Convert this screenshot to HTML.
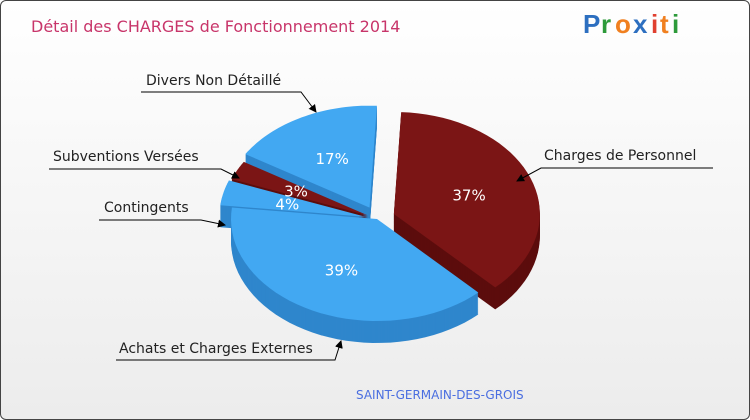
<!DOCTYPE html>
<html><head><meta charset="utf-8"><style>
body{margin:0;}
#c{position:relative;width:748px;height:418px;border:1px solid #444;border-radius:6px;overflow:hidden;background:linear-gradient(#fff,#ececec);font-family:"DejaVu Sans","Liberation Sans",sans-serif;}
</style></head><body>
<div id="c">
<svg id="s" width="748" height="418">
<text x="30" y="31" font-size="16" fill="#c8356a" font-family="DejaVu Sans, Liberation Sans, sans-serif">Détail des CHARGES de Fonctionnement 2014</text>
<g font-family="Liberation Sans, sans-serif" font-size="26" font-weight="bold">
<text x="582" y="32" fill="#2d6fc0">P</text><text x="600" y="32" fill="#2d9a3a">r</text><text x="614" y="32" fill="#f08020">o</text><text x="632" y="32" fill="#2d6fc0">x</text><text x="650" y="32" fill="#e04030">i</text><text x="659" y="32" fill="#f08020">t</text><text x="671" y="32" fill="#2d9a3a">i</text></g>
<g id="pie"></g>
<g id="labels" font-size="14" fill="#222" font-family="DejaVu Sans, Liberation Sans, sans-serif"></g>
<text x="355" y="398" font-size="12" fill="#4a6ee0">SAINT-GERMAIN-DES-GROIS</text>
</svg></div>
<script>
const categories=["Charges de Personnel","Achats et Charges Externes","Contingents","Subventions Versées","Divers Non Détaillé"];
const values=[37,39,4,3,17];
const explode=[18,0,12,10,16];
const NS="http://www.w3.org/2000/svg";
const cx=376,cy=218,rx=146,ry=102,depth=22;
const tops=["#7b1515","#42a8f2","#42a8f2","#7b1515","#42a8f2"];
const sides=["#5c0d0d","#2f86cc","#2f86cc","#5c0d0d","#2f86cc"];
const pie=document.getElementById('pie');
const total=values.reduce((a,b)=>a+b,0);
function pt(x0,y0,a,r){return [x0+rx*r*Math.sin(a),y0-ry*r*Math.cos(a)];}
let a0=0.05;const slices=[];
values.forEach((v,i)=>{const a1=a0+v/total*2*Math.PI;const m=(a0+a1)/2;
const ox=explode[i]*Math.sin(m),oy=-explode[i]*Math.cos(m)*0.8;
slices.push({i,a0,a1,m,x:cx+ox,y:cy+oy});a0=a1;});
function shape(s,dy){let d=`M${s.x},${s.y+dy}`;const n=40;
for(let k=0;k<=n;k++){const a=s.a0+(s.a1-s.a0)*k/n;const p=pt(s.x,s.y+dy,a,1);d+=`L${p[0].toFixed(1)},${p[1].toFixed(1)}`;}
return d+'Z';}
const order=[...slices].sort((p,q)=>(-Math.cos(p.m))-(-Math.cos(q.m)));
order.forEach(s=>{const g=document.createElementNS(NS,'g');


for(let d=depth;d>=1;d--){const p=document.createElementNS(NS,'path');p.setAttribute('d',shape(s,d));p.setAttribute('fill',sides[s.i]);g.appendChild(p);}
pie.appendChild(g);s.g=g;});
order.forEach(s=>{const p=document.createElementNS(NS,'path');p.setAttribute('d',shape(s,0));p.setAttribute('fill',tops[s.i]);s.g.appendChild(p);
const lp=pt(s.x,s.y,s.m,0.55);const t=document.createElementNS(NS,'text');
t.setAttribute('x',lp[0]);t.setAttribute('y',lp[1]+6);t.setAttribute('text-anchor','middle');t.setAttribute('font-size','15');t.setAttribute('fill','#fff');


t.textContent=values[s.i]+'%';pie.appendChild(t);});
const L=[
 {t:"Charges de Personnel",tx:543,ty:159,l:"M712,167 L540,167 L516,180"},
 {t:"Divers Non Détaillé",tx:145,ty:84,l:"M140,91 L300,91 L315,111"},
 {t:"Subventions Versées",tx:52,ty:160,l:"M48,168 L220,168 L238,177"},
 {t:"Contingents",tx:103,ty:211,l:"M98,219 L200,219 L224,224"},
 {t:"Achats et Charges Externes",tx:118,ty:352,l:"M115,359 L334,359 L340,340"}];
const lg=document.getElementById('labels');
lg.innerHTML='<defs><marker id="ar" markerWidth="8" markerHeight="8" refX="7" refY="4" orient="auto"><path d="M0,0L8,4L0,8Z" fill="#000"/></marker></defs>';
L.forEach(o=>{const p=document.createElementNS(NS,'path');p.setAttribute('d',o.l);p.setAttribute('stroke','#000');p.setAttribute('fill','none');p.setAttribute('marker-end','url(#ar)');


lg.appendChild(p);
const t=document.createElementNS(NS,'text');t.setAttribute('x',o.tx);t.setAttribute('y',o.ty);t.textContent=o.t;


lg.appendChild(t);});
</script>
</body></html>
